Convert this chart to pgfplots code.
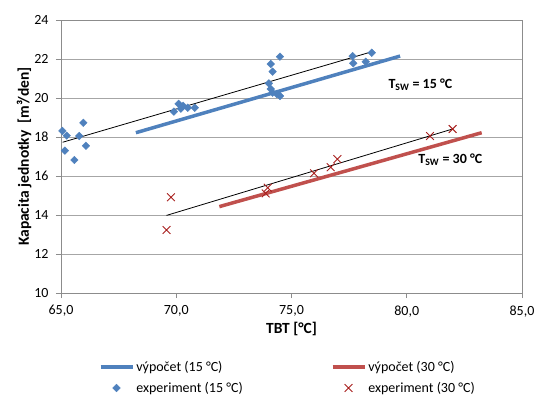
\documentclass[border=0pt]{standalone}
\usepackage{fontspec}
\setmainfont{Carlito}
\usepackage{pgfplots}
\pgfplotsset{compat=1.18}
\definecolor{xlBlue}{HTML}{4F81BD}
\definecolor{xlRed}{HTML}{C0504D}
\definecolor{xlCross}{HTML}{A8201E}
\definecolor{xlGrid}{HTML}{A6A6A6}
\definecolor{xlAxis}{HTML}{8C8C8C}
\pgfplotsset{
  lineleg/.style={legend image code/.code={\draw[##1] (0pt,0pt) -- (32pt,0pt);}},
  markleg/.style={legend image code/.code={\draw[mark repeat=2,mark phase=2,##1] plot coordinates {(0pt,0pt) (16pt,0pt) (32pt,0pt)};}},
}

\begin{document}
\begin{tikzpicture}
\begin{axis}[
  at={(0pt,0pt)}, anchor=south west,
  scale only axis,
  width=461pt, height=273pt,
  xmin=65, xmax=85, ymin=10, ymax=24,
  xtick={65,70,75,80,85}, ytick={10,12,...,24},
  font=\fontsize{14}{16}\selectfont,
  /pgf/number format/assume math mode=true,
  x tick label style={/pgf/number format/.cd, fixed, fixed zerofill, precision=1, use comma, 1000 sep={}},
  ymajorgrids, grid style={xlGrid, line width=0.8pt},
  axis line style={xlAxis, line width=0.8pt},
  tick style={xlAxis, line width=0.8pt},
  tick align=outside, major tick length=5pt,
  xtick pos=bottom, ytick pos=left,
  xticklabel shift=4pt, yticklabel shift=4pt,
  xlabel={\bfseries\fontsize{15.5}{17}\selectfont TBT [°C]},
  ylabel={\bfseries\fontsize{15.5}{17}\selectfont Kapacita jednotky\ \ [m³/den]},
  xlabel style={yshift=2pt},
  ylabel style={yshift=-4pt},
  legend columns=2,
  legend cell align=left,
  legend style={draw=none, fill=none, at={(0.075,-0.235)}, anchor=north west,
    font=\fontsize{14}{16}\selectfont, row sep=5pt,
    /tikz/every even column/.append style={column sep=86pt}},
]
% calculated lines
\addplot[xlBlue, line width=3.5pt, no marks, lineleg] coordinates {
  (68.25,18.22) (79.71,22.15)
};
\addlegendentry{výpočet (15 °C)}
\addplot[xlRed, line width=3.5pt, no marks, lineleg] coordinates {
  (71.87,14.43) (83.25,18.22)
};
\addlegendentry{výpočet (30 °C)}
% experiments
\addplot[only marks, mark=square*, mark size=2.7pt, mark options={rotate=45, fill=xlBlue, draw=xlBlue}, markleg]
coordinates {
  (65.06,18.31) (65.25,18.07) (65.97,18.73) (65.79,18.05) (66.08,17.55)
  (65.17,17.30) (65.58,16.82)
  (69.90,19.30) (70.10,19.70) (70.30,19.60) (70.50,19.50) (70.80,19.50) (70.20,19.45)
  (74.50,22.12) (74.10,21.74) (74.18,21.35) (74.02,20.75) (74.10,20.46)
  (74.18,20.27) (74.36,20.20) (74.50,20.10)
  (77.65,22.15) (77.68,21.78) (78.22,21.86) (78.48,22.32)
};
\addlegendentry{experiment (15 °C)}
\addplot[only marks, mark=x, mark size=5.5pt, mark options={draw=xlCross, line width=0.9pt}, markleg]
coordinates {
  (69.77,14.91) (69.58,13.23) (73.97,15.40) (73.88,15.11) (75.98,16.14)
  (76.70,16.45) (76.99,16.87) (81.01,18.05) (81.99,18.41)
};
\addlegendentry{experiment (30 °C)}
% trend lines
\addplot[black, line width=0.8pt, no marks, forget plot] coordinates {
  (65.07,17.73) (78.48,22.37)
};
\addplot[black, line width=0.8pt, no marks, forget plot] coordinates {
  (69.58,13.98) (81.96,18.40)
};
\node[anchor=west, font=\bfseries\fontsize{14}{16}\selectfont, inner sep=0pt] at (axis cs:79.2,20.67) {T\textsubscript{SW} = 15 °C};
\node[anchor=west, font=\bfseries\fontsize{14}{16}\selectfont, inner sep=0pt] at (axis cs:80.5,16.82) {T\textsubscript{SW} = 30 °C};
\end{axis}
\pgfresetboundingbox
\path[use as bounding box] (-61pt,-113pt) rectangle (476pt,293pt);
\end{tikzpicture}
\end{document}
